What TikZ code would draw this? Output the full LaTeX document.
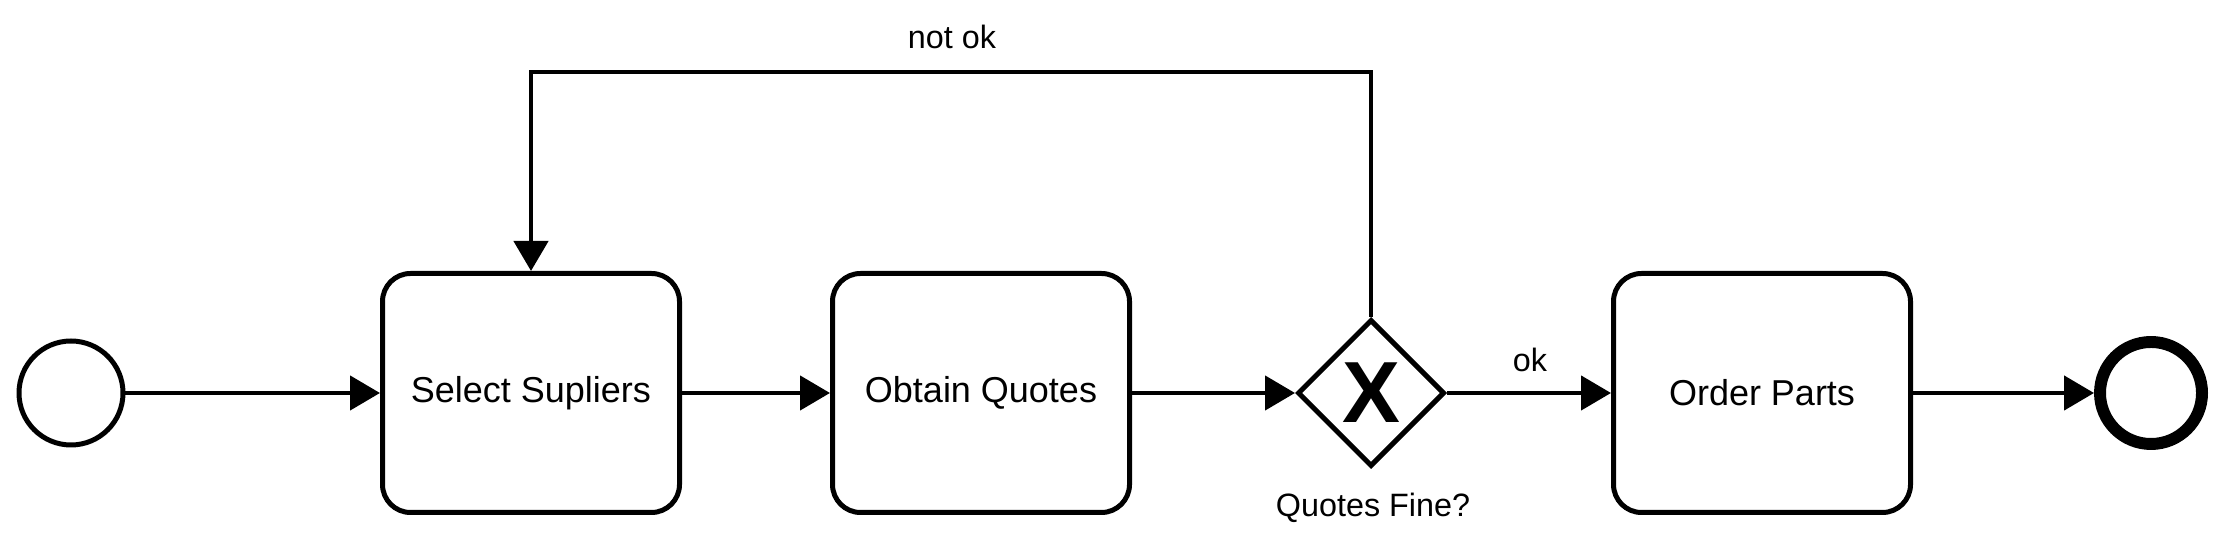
\documentclass[tikz,border=0pt]{standalone}
\usepackage{fontspec}
\setmainfont{Liberation Sans}
\usetikzlibrary{arrows.meta,shapes.geometric}
\tikzset{
  task/.style={draw=black, line width=1.42pt, rounded corners=0.28cm,
    minimum width=2.97cm, minimum height=2.39cm, inner sep=0pt,
    font=\fontsize{10.24pt}{12pt}\selectfont},
  event/.style={draw=black, circle, minimum size=#1, inner sep=0pt},
  gateway/.style={draw=black, diamond, line width=1.42pt, minimum size=1.47cm,
    inner sep=0pt, font=\fontsize{24.7pt}{26pt}\selectfont\bfseries},
  flow/.style={line width=1.3pt, -{Triangle[length=0.3cm,width=0.34cm]}},
  lbl/.style={inner sep=0pt, font=\fontsize{9.2pt}{11pt}\selectfont}
}
\begin{document}
\begin{tikzpicture}
\useasboundingbox (0,0) rectangle (22.23,5.49);
\node [event=1.04cm, line width=1.42pt] (start) at (0.71,1.56) {};
\node [task] (sel) at (5.31,1.56) {Select Supliers};
\node [task] (obt) at (9.81,1.56) {Obtain Quotes};
\node [gateway] (gw) at (13.71,1.56) {X};
\node [task] (ord) at (17.62,1.56) {Order Parts};
\node [event=1.02cm, line width=3.4pt] (end) at (21.51,1.56) {};

\node [lbl] (fine) at (13.73,0.41) {Quotes Fine?};
\node [lbl] (okl) at (15.30,1.89) {ok};
\node [lbl] (notok) at (9.52,5.12) {not ok};
\coordinate (loopr) at (13.71,4.77);
\coordinate (loopl) at (5.31,4.77);

\draw [flow] (start) -- (sel);
\draw [flow] (sel) -- (obt);
\draw [flow] (obt) -- (gw);
\draw [flow] (gw) -- (ord);
\draw [flow] (ord) -- (end);
\draw [flow] (gw.north) -- (loopr) -- (loopl) -- (sel.north);
\end{tikzpicture}
\end{document}
